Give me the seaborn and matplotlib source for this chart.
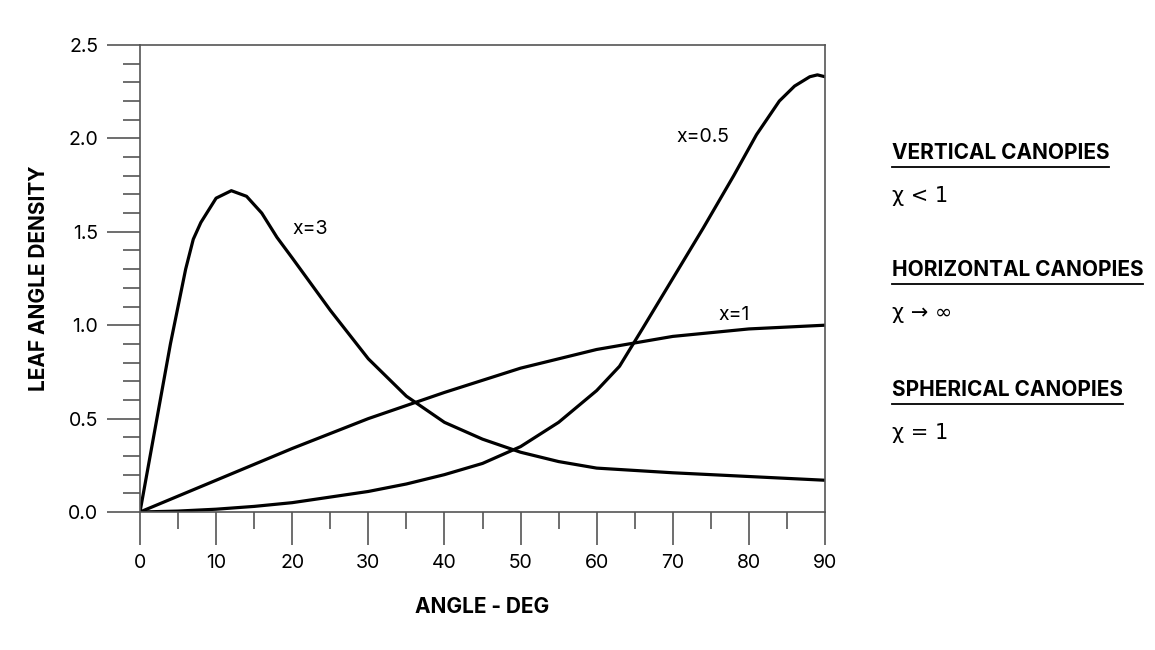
import matplotlib
matplotlib.use("Agg")
import matplotlib.pyplot as plt
import seaborn as sns
import pandas as pd
from matplotlib.ticker import MultipleLocator
from matplotlib.lines import Line2D

angle3 = [0, 2, 4, 6, 7, 8, 10, 12, 14, 16, 18, 20, 25, 30, 35, 40, 45, 50, 55, 60, 70, 80, 90]
dens3 = [0, 0.45, 0.9, 1.3, 1.46, 1.55, 1.68, 1.72, 1.69, 1.60, 1.47, 1.36, 1.08, 0.82, 0.62, 0.48, 0.39, 0.32, 0.27, 0.235, 0.21, 0.19, 0.17]
angle1 = [0, 10, 20, 30, 40, 50, 60, 70, 80, 90]
dens1 = [0, 0.17, 0.34, 0.5, 0.64, 0.77, 0.87, 0.94, 0.98, 1.0]
angle05 = [0, 5, 10, 15, 20, 25, 30, 35, 40, 45, 50, 55, 60, 63, 66, 70, 74, 78, 81, 84, 86, 88, 89, 90]
dens05 = [0, 0.005, 0.015, 0.03, 0.05, 0.08, 0.11, 0.15, 0.2, 0.26, 0.35, 0.48, 0.65, 0.78, 0.98, 1.25, 1.52, 1.8, 2.02, 2.2, 2.28, 2.33, 2.34, 2.33]

fig = plt.figure(figsize=(11.55, 6.5), dpi=100)
ax = fig.add_axes([0.1212, 0.2123, 0.5931, 0.7185])
for a, d in [(angle3, dens3), (angle1, dens1), (angle05, dens05)]:
    sns.lineplot(x=a, y=d, ax=ax, color="black", linewidth=2.3, sort=False)
ax.set_xlim(0, 90)
ax.set_ylim(0, 2.5)
ax.xaxis.set_major_locator(MultipleLocator(10))
ax.xaxis.set_minor_locator(MultipleLocator(5))
ax.yaxis.set_major_locator(MultipleLocator(0.5))
ax.yaxis.set_minor_locator(MultipleLocator(0.1))
ax.set_xticks([0, 10, 20, 30, 40, 50, 60, 70, 80, 90])
ax.set_yticks([0, 0.5, 1.0, 1.5, 2.0, 2.5])
ax.set_yticklabels(["0.0", "0.5", "1.0", "1.5", "2.0", "2.5"])
for s in ax.spines.values():
    s.set_color("#555555"); s.set_linewidth(1.2)
ax.tick_params(which="major", length=24, width=1.2, color="#555555", labelsize=14, pad=6)
ax.tick_params(which="minor", length=12, width=1.2, color="#555555")
for t in ax.get_xticklabels() + ax.get_yticklabels():
    t.set_fontfamily("Inter")
ax.set_xlabel("ANGLE - DEG", fontsize=15, fontweight="bold", fontfamily="Inter", labelpad=18)
ax.set_ylabel("LEAF ANGLE DENSITY", fontsize=15, fontweight="bold", fontfamily="Inter", labelpad=14)
ax.text(20, 1.49, "x=3", fontsize=14, fontfamily="Inter")
ax.text(76, 1.03, "x=1", fontsize=14, fontfamily="Inter")
ax.text(70.5, 1.98, "x=0.5", fontsize=14, fontfamily="Inter")

heads = [("VERTICAL CANOPIES", "χ < 1", 0.755), ("HORIZONTAL CANOPIES", "χ → ∞", 0.575), ("SPHERICAL CANOPIES", "χ = 1", 0.39)]
fig.canvas.draw()
r = fig.canvas.get_renderer()
for h, s, y in heads:
    t = fig.text(0.772, y, h, fontsize=15, fontweight="bold", fontfamily="Inter")
    bb = t.get_window_extent(r).transformed(fig.transFigure.inverted())
    fig.add_artist(Line2D([bb.x0, bb.x1], [bb.y0 - 0.006, bb.y0 - 0.006], color="black", lw=1.3, transform=fig.transFigure))
    fig.text(0.772, y - 0.066, s, fontsize=15, fontfamily="DejaVu Sans")
fig.savefig("out.png", dpi=100)
